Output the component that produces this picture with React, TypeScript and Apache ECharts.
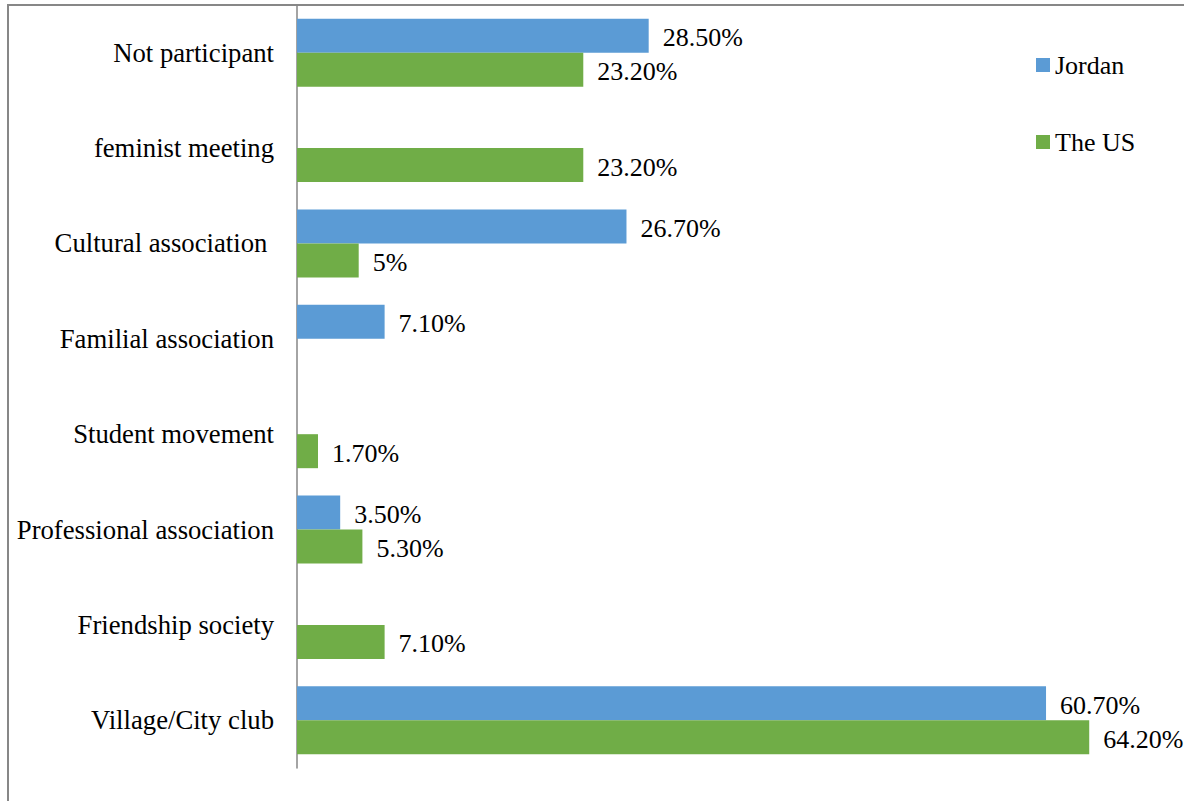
import React, { useEffect, useRef } from "react";
import * as echarts from "echarts";

const categories = [
  "Not participant",
  "feminist meeting",
  "Cultural association ",
  "Familial association",
  "Student movement",
  "Professional association",
  "Friendship society",
  "Village/City club",
];
const jordan: (number | null)[] = [28.5, null, 26.7, 7.1, null, 3.5, null, 60.7];
const theUS: (number | null)[] = [23.2, 23.2, 5, null, 1.7, 5.3, 7.1, 64.2];
const seriesNames = ["Jordan", "The US"];
const colors = ["#5B9BD5", "#70AD47"];

const FONT = "Liberation Serif";

function fmt(p: any) {
  const v = p.value as number;
  if (v == null) return "";
  return Number.isInteger(v) ? `${v}%` : `${v.toFixed(2)}%`;
}

export default function App() {
  const ref = useRef<HTMLDivElement>(null);
  useEffect(() => {
    if (!ref.current) return;
    const chart = echarts.init(ref.current, null, { renderer: "svg" });
    const label = {
      show: true,
      position: "right",
      distance: 14,
      formatter: fmt,
      color: "#000",
      fontFamily: FONT,
      fontSize: 26,
      offset: [0, 2],
    };
    chart.setOption({
      animation: false,
      backgroundColor: "#fff",
      color: colors,
      textStyle: { fontFamily: FONT, fontSize: 26 },
      graphic: [
        {
          type: "rect",
          shape: { x: 8, y: 5, width: 1300, height: 1000 },
          style: { fill: "none", stroke: "#878787", lineWidth: 2 },
          silent: true,
        },
      ],
      legend: {
        orient: "vertical",
        left: 1036,
        top: 52,
        padding: 0,
        itemWidth: 14,
        itemHeight: 14,
        itemGap: 51,
        icon: "rect",
        data: seriesNames,
        textStyle: { fontFamily: FONT, fontSize: 26, color: "#000" },
      },
      grid: { left: 297, top: 5, bottom: 33, right: 23.2, containLabel: false },
      xAxis: {
        type: "value",
        min: 0,
        max: 70,
        show: false,
        splitLine: { show: false },
      },
      yAxis: {
        type: "category",
        inverse: true,
        data: categories,
        axisLine: { show: true, lineStyle: { color: "#868686", width: 1.5 } },
        axisTick: { show: false },
        axisLabel: {
          margin: 23,
          color: "#000",
          fontFamily: FONT,
          fontSize: 26.7,
        },
      },
      series: [
        {
          name: seriesNames[0],
          type: "bar",
          data: jordan,
          barGap: "0%",
          barCategoryGap: "28.7%",
          label,
        },
        {
          name: seriesNames[1],
          type: "bar",
          data: theUS,
          barGap: "0%",
          barCategoryGap: "28.7%",
          label,
        },
      ],
    });
    return () => chart.dispose();
  }, []);
  return (
    <div
      ref={ref}
      style={{ position: "fixed", left: 0, top: 0, width: 1184, height: 801 }}
    />
  );
}
